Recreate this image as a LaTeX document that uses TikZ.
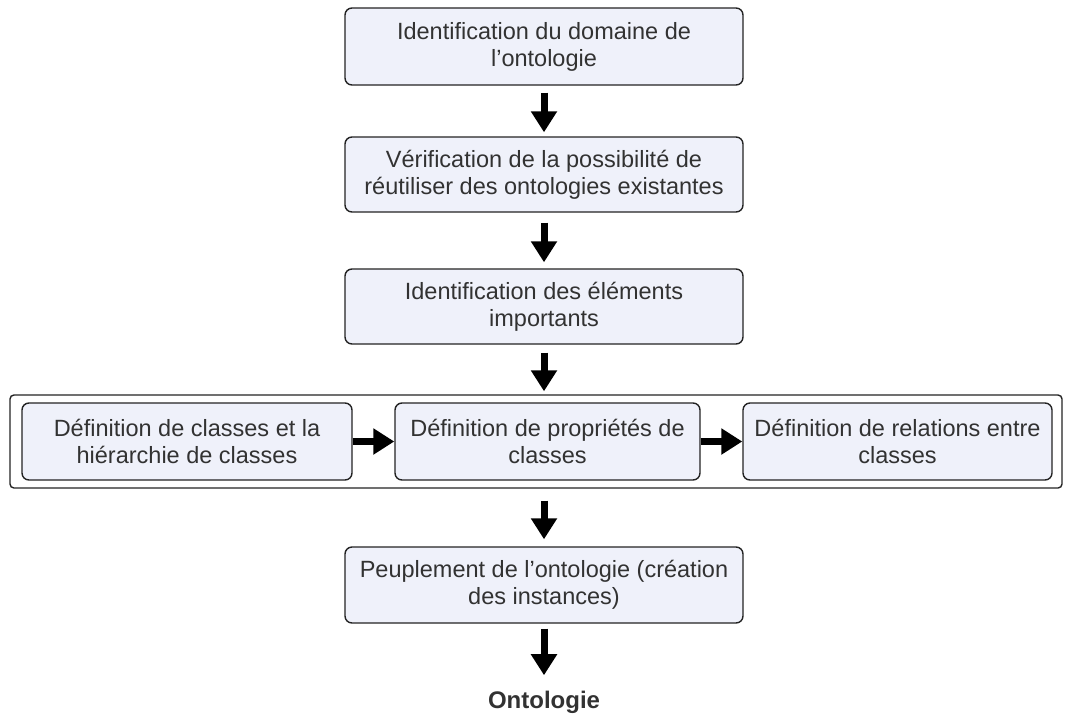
\documentclass[tikz,border=0pt]{standalone}
\usepackage{fontspec}
\setmainfont{Liberation Sans}
\usetikzlibrary{positioning,calc,arrows.meta}
\definecolor{fond}{RGB}{239,241,250}
\definecolor{trait}{RGB}{35,35,35}
\definecolor{texte}{RGB}{50,50,50}

\begin{document}
\begin{tikzpicture}[x=1pt, y=-1pt,
    etape/.style={draw=trait, line width=1.4pt, fill=fond, rounded corners=7pt,
      text=texte, align=center, inner sep=0pt,
      font=\fontsize{23.5}{27}\selectfont},
    groupe/.style={draw=trait, line width=1.4pt, rounded corners=4pt, inner sep=0pt},
    fleche/.style={line width=7pt, black,
      -{Triangle[width=25pt,length=21pt]}}]
  \useasboundingbox (0, 0) rectangle (1067, 715);%
  % étapes principales
  \node [etape, minimum width=398pt, minimum height=77pt] (domaine) at (544, 46.5) {Identification du domaine de\\l'ontologie};%
  \node [etape, minimum width=398pt, minimum height=75pt] (verif) at (544, 174.5) {Vérification de la possibilité de\\réutiliser des ontologies existantes};%
  \node [etape, minimum width=398pt, minimum height=75pt] (elements) at (544, 306.5) {Identification des éléments\\importants};%
  % cadre des définitions
  \node [groupe, minimum width=1052pt, minimum height=93pt] (cadre) at (536, 441.5) {};%
  \node [etape, minimum width=330pt, minimum height=77pt] (classes) at (187, 441.5) {Définition de classes et la\\hiérarchie de classes};%
  \node [etape, minimum width=305pt, minimum height=77pt] (proprietes) at (547.5, 441.5) {Définition de propriétés de\\classes};%
  \node [etape, minimum width=309pt, minimum height=77pt] (relations) at (897.5, 441.5) {Définition de relations entre\\classes};%
  \node [etape, minimum width=398pt, minimum height=76pt] (peuplement) at (544, 585) {Peuplement de l'ontologie (création\\des instances)};%
  \node [font=\fontsize{24}{28}\selectfont\bfseries, text=texte] (ontologie) at (544, 702) {Ontologie};%
  % flèches
  \draw [fleche, shorten <=7pt, shorten >=4pt] (domaine) -- (verif);%
  \draw [fleche, shorten <=10pt, shorten >=6pt] (verif) -- (elements);%
  \draw [fleche, shorten <=8pt, shorten >=3pt] (elements) -- (cadre.north -| elements);%
  \draw [fleche] (classes) -- (proprietes);%
  \draw [fleche] (proprietes) -- (relations);%
  \draw [fleche, shorten <=12pt, shorten >=7pt] (cadre.south -| peuplement) -- (peuplement);%
  \draw [fleche, shorten <=5pt, shorten >=12pt] (peuplement) -- (ontologie);%
\end{tikzpicture}
\end{document}
